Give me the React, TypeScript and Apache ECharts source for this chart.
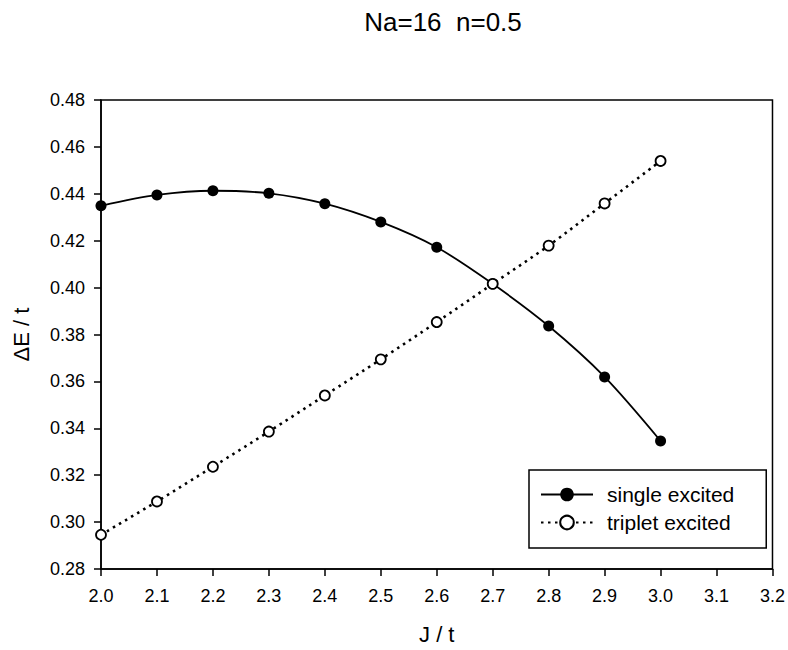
import React, { useEffect, useRef } from "react";
import * as echarts from "echarts";

const jValues = [2.0, 2.1, 2.2, 2.3, 2.4, 2.5, 2.6, 2.7, 2.8, 2.9, 3.0];
const singleExcited = [0.4349, 0.4395, 0.4413, 0.4402, 0.4358, 0.4280, 0.4172, 0.4016, 0.3836, 0.3619, 0.3346];
const tripletExcited = [0.2946, 0.3088, 0.3236, 0.3386, 0.3540, 0.3694, 0.3853, 0.4016, 0.4179, 0.4359, 0.4540];
const titleText = "Na=16  n=0.5";
const xName = "J / t";
const yName = "ΔE / t";
const seriesNames = ["single excited", "triplet excited"];

const FONT = "'Liberation Sans', Arial, Helvetica, sans-serif";

export default function App() {
  const ref = useRef<HTMLDivElement>(null);
  useEffect(() => {
    document.body.style.margin = "0";
    if (!ref.current) return;
    const chart = echarts.init(ref.current, undefined, { renderer: "svg" });
    const pair = (ys: number[]) => jValues.map((x, i) => [x, ys[i]]);
    chart.setOption({
      animation: false,
      backgroundColor: "#fff",
      textStyle: { fontFamily: FONT, color: "#000" },
      title: {
        text: titleText,
        left: 438,
        top: 4,
        textAlign: "center",
        textStyle: { fontFamily: FONT, fontSize: 26, fontWeight: "normal", color: "#000" },
      },
      grid: {
        left: 101,
        top: 100,
        width: 672,
        height: 471,
        show: true,
        borderColor: "#000",
        borderWidth: 1.5,
        backgroundColor: "transparent",
      },
      legend: {
        orient: "vertical",
        left: 529,
        top: 470,
        borderColor: "#000",
        borderWidth: 1.5,
        padding: [14, 32, 15, 11],
        itemWidth: 52,
        itemHeight: 17,
        itemGap: 7,
        textStyle: { fontFamily: FONT, fontSize: 21, color: "#000", padding: [0, 0, 0, 9] },
        data: seriesNames,
      },
      xAxis: {
        type: "value",
        min: 2.0,
        max: 3.2,
        interval: 0.1,
        name: xName,
        nameLocation: "middle",
        nameGap: 54,
        nameTextStyle: { fontFamily: FONT, fontSize: 22, color: "#000" },
        axisLine: { show: true, lineStyle: { color: "#000", width: 1.5 } },
        axisTick: { show: true, length: 7, lineStyle: { color: "#000", width: 1.5 } },
        axisLabel: {
          fontFamily: FONT,
          fontSize: 18,
          color: "#000",
          margin: 18,
          formatter: (v: number) => v.toFixed(1),
        },
        splitLine: { show: false },
      },
      yAxis: {
        type: "value",
        min: 0.28,
        max: 0.48,
        interval: 0.02,
        name: yName,
        nameLocation: "middle",
        nameGap: 69,
        nameTextStyle: { fontFamily: FONT, fontSize: 22, color: "#000" },
        axisLine: { show: true, lineStyle: { color: "#000", width: 1.5 } },
        axisTick: { show: true, length: 7, lineStyle: { color: "#000", width: 1.5 } },
        axisLabel: {
          fontFamily: FONT,
          fontSize: 18,
          color: "#000",
          margin: 16,
          formatter: (v: number) => v.toFixed(2),
        },
        splitLine: { show: false },
      },
      series: [
        {
          name: seriesNames[0],
          type: "line",
          data: pair(singleExcited),
          smooth: 0.3,
          symbol: "circle",
          symbolSize: 11,
          itemStyle: { color: "#000", borderColor: "#000", borderWidth: 0 },
          lineStyle: { color: "#000", width: 1.8 },
          z: 3,
        },
        {
          name: seriesNames[1],
          type: "line",
          data: pair(tripletExcited),
          smooth: 0.3,
          symbol: "circle",
          symbolSize: 10,
          itemStyle: { color: "#fff", borderColor: "#000", borderWidth: 1.8 },
          lineStyle: { color: "#000", width: 2.6, type: [2.5, 4.5] },
          z: 4,
        },
      ],
    });
    return () => chart.dispose();
  }, []);
  return <div ref={ref} style={{ width: 788, height: 650 }} />;
}
